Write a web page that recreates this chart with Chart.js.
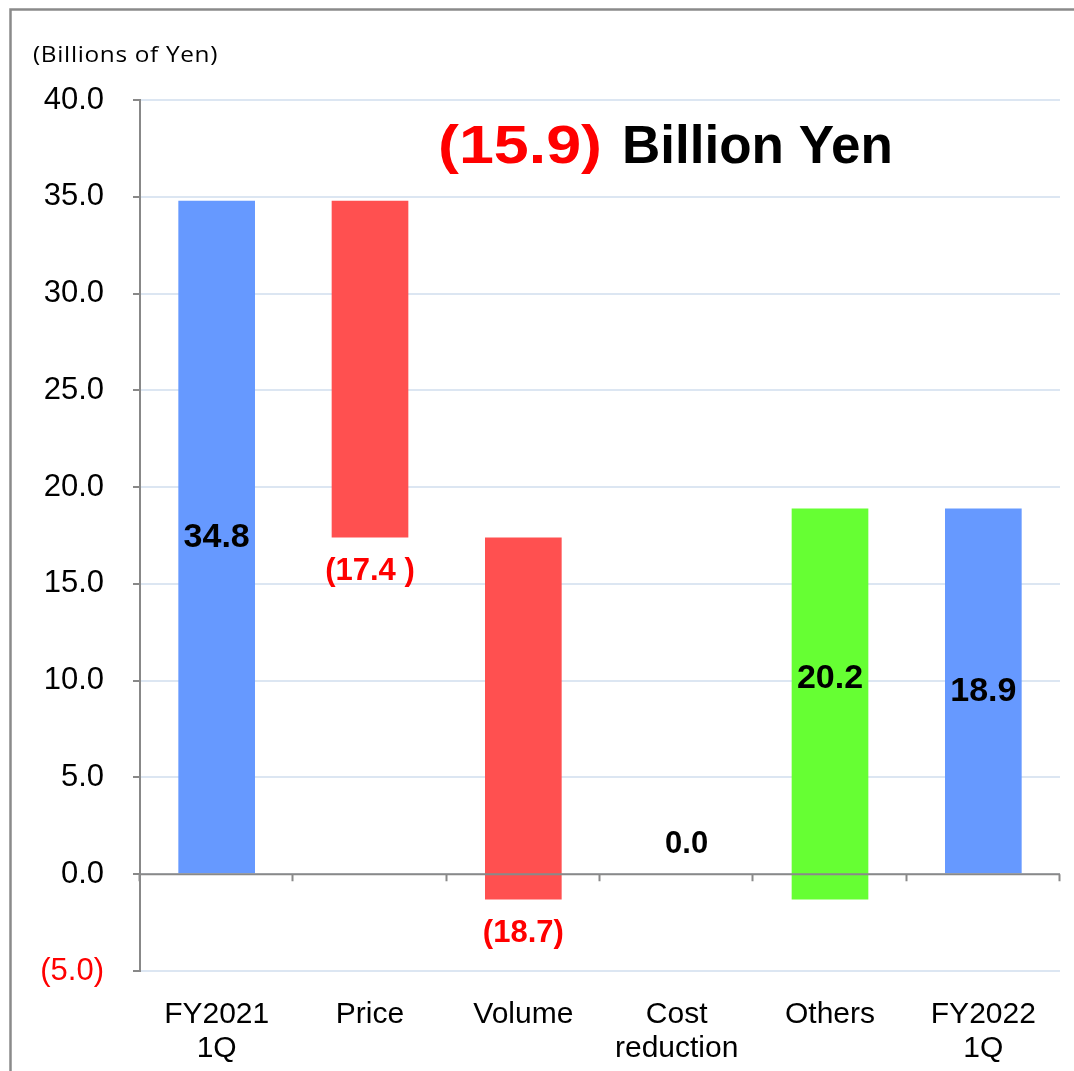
<!DOCTYPE html>
<html><head><meta charset="utf-8">
<script src="https://cdn.jsdelivr.net/npm/chart.js@4/dist/chart.umd.min.js"></script>
<style>html,body{margin:0;padding:0;background:#fff}#wrap{width:1074px;height:1071px;position:relative}</style>
</head><body><div id="wrap"><canvas id="c" width="1074" height="1071"></canvas></div>
<script>
const categories = [['FY2021','1Q'], 'Price', 'Volume', ['Cost','reduction'], 'Others', ['FY2022','1Q']];
const barStart = [0, 17.4, -1.3, 0, -1.3, 0];
const barEnd = [34.8, 34.8, 17.4, 0, 18.9, 18.9];
const changes = [34.8, -17.4, -18.7, 0.0, 20.2, 18.9];
const valueLabels = ['34.8', '(17.4 )', '(18.7)', '0.0', '20.2', '18.9'];
const barColors = ['#6699ff', '#ff5050', '#ff5050', '#ff5050', '#66ff33', '#6699ff'];
const yMin = -5, yMax = 40, yStep = 5;
const unitLabel = '(Billions of Yen)';
const headlineValue = '(15.9)';
const headlineText = 'Billion Yen';

const FONT = '"Liberation Sans", Arial, sans-serif';

const decor = {
  id: 'decor',
  beforeDraw(chart) {
    const ctx = chart.ctx;
    ctx.save();
    ctx.fillStyle = '#fff';
    ctx.fillRect(0, 0, chart.width, chart.height);
    ctx.strokeStyle = '#8a8a8a';
    ctx.lineWidth = 2.5;
    ctx.beginPath();
    ctx.moveTo(10.5, chart.height);
    ctx.lineTo(10.5, 9.5);
    ctx.lineTo(chart.width, 9.5);
    ctx.stroke();
    // unit label
    ctx.fillStyle = '#000';
    ctx.font = '22px "Open Sans", sans-serif';
    ctx.letterSpacing = '0.6px';
    ctx.textAlign = 'left';
    ctx.textBaseline = 'middle';
    const w = ctx.measureText(unitLabel).width;
    ctx.translate(33, 56);
    ctx.scale(185 / w, 1);
    ctx.fillText(unitLabel, 0, 0);
    ctx.restore();
  },
  afterDatasetsDraw(chart) {
    const ctx = chart.ctx, x = chart.scales.x, y = chart.scales.y;
    const y0 = y.getPixelForValue(0);
    ctx.save();
    ctx.strokeStyle = '#898989';
    ctx.lineWidth = 2;
    ctx.beginPath();
    ctx.moveTo(x.left, y0);
    ctx.lineTo(x.right, y0);
    const n = categories.length;
    for (let i = 0; i <= n; i++) {
      const px = Math.round(x.left + (x.right - x.left) * i / n) - 0.5;
      ctx.moveTo(px, y0);
      ctx.lineTo(px, y0 + 7);
    }
    ctx.stroke();

    const meta = chart.getDatasetMeta(0);
    ctx.textAlign = 'center';
    ctx.textBaseline = 'middle';
    meta.data.forEach((bar, i) => {
      const d = changes[i];
      let tx = bar.x, ty, color = '#000', font = 'bold 34px ' + FONT;
      if (d > 0) {
        ty = y.getPixelForValue(d / 2);
      } else if (d < 0) {
        ty = y.getPixelForValue(Math.min(barStart[i], barEnd[i])) + 34;
        color = '#ff0000';
        font = 'bold 31px ' + FONT;
      } else {
        ty = y0 - 30;
        tx = bar.x + 10;
        font = 'bold 31px ' + FONT;
      }
      ctx.fillStyle = color;
      ctx.font = font;
      ctx.fillText(valueLabels[i], tx, ty);
    });

    // headline
    ctx.textAlign = 'left';
    ctx.textBaseline = 'alphabetic';
    ctx.font = 'bold 53px ' + FONT;
    ctx.fillStyle = '#ff0000';
    const wv = ctx.measureText(headlineValue).width;
    ctx.save();
    ctx.translate(438, 163);
    ctx.scale(164 / wv, 1);
    ctx.fillText(headlineValue, 0, 0);
    ctx.restore();
    ctx.fillStyle = '#000';
    ctx.fillText(headlineText, 622, 163);
    ctx.restore();
  }
};

new Chart(document.getElementById('c'), {
  type: 'bar',
  data: {
    labels: categories,
    datasets: [{
      data: barStart.map((s, i) => [s, barEnd[i]]),
      backgroundColor: barColors,
      borderWidth: 0,
      barPercentage: 0.5,
      categoryPercentage: 1.0
    }]
  },
  options: {
    responsive: false,
    animation: false,
    devicePixelRatio: 1,
    layout: { padding: { top: 100, right: 14, left: 0, bottom: 0 } },
    plugins: { legend: { display: false }, tooltip: { enabled: false }, title: { display: false } },
    scales: {
      x: {
        grid: { display: false, drawTicks: false },
        border: { display: false },
        ticks: { color: '#000', font: { family: FONT, size: 30, lineHeight: 1.15 }, padding: 26, maxRotation: 0, autoSkip: false },
        afterFit(s) { s.height = 100; }
      },
      y: {
        min: yMin, max: yMax,
        border: { color: '#888', width: 2 },
        grid: { color: '#dce6f2', lineWidth: 2, tickColor: '#888', tickLength: 7, tickWidth: 2 },
        ticks: {
          stepSize: yStep,
          padding: 29,
          font: { family: FONT, size: 31 },
          color: (c) => c.tick.value < 0 ? '#ff0000' : '#000',
          callback: (v) => v < 0 ? '(' + Math.abs(v).toFixed(1) + ')' : v.toFixed(1)
        },
        afterFit(s) { s.width = 140; }
      }
    }
  },
  plugins: [decor]
});
</script>
</body></html>
